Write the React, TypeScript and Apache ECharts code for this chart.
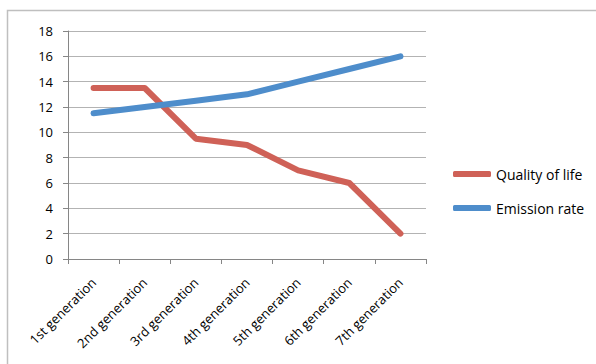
import React, { useEffect, useRef } from "react";
import * as echarts from "echarts";

const categories = [
  "1st generation",
  "2nd generation",
  "3rd generation",
  "4th generation",
  "5th generation",
  "6th generation",
  "7th generation",
];
const qualityOfLife = [13.5, 13.5, 9.5, 9, 7, 6, 2];
const emissionRate = [11.5, 12, 12.5, 13, 14, 15, 16];

const FONT = "Open Sans";

export default function App() {
  const ref = useRef<HTMLDivElement>(null);
  useEffect(() => {
    document.body.style.margin = "0";
    const chart = echarts.init(ref.current!, null, { renderer: "svg" });
    chart.setOption({
      animation: false,
      backgroundColor: "#ffffff",
      textStyle: { fontFamily: FONT },
      graphic: [
        {
          type: "polyline",
          shape: { points: [[7.5, 364], [7.5, 10.5], [596, 10.5]] },
          style: { stroke: "#BFBFBF", lineWidth: 1.5, fill: "none" },
          silent: true,
        },
      ],
      grid: { left: 68, right: 170, top: 31, bottom: 105, containLabel: false },
      legend: {
        orient: "vertical",
        left: 453,
        top: 167,
        padding: 0,
        itemGap: 20,
        itemWidth: 38,
        itemHeight: 6,
        icon: "roundRect",
        textStyle: { fontSize: 14, color: "#000", fontFamily: FONT },
        data: ["Quality of life", "Emission rate"],
      },
      xAxis: {
        type: "category",
        data: categories,
        boundaryGap: true,
        axisLine: { lineStyle: { color: "#868686", width: 1 } },
        axisTick: { show: true, length: 5, lineStyle: { color: "#868686" } },
        axisLabel: {
          rotate: 45,
          interval: 0,
          margin: 21,
          fontSize: 13,
          color: "#000",
          fontFamily: FONT,
        },
      },
      yAxis: {
        type: "value",
        min: 0,
        max: 18,
        interval: 2,
        axisLine: { show: true, lineStyle: { color: "#868686", width: 1 } },
        axisTick: { show: true, length: 5, lineStyle: { color: "#868686" } },
        splitLine: { lineStyle: { color: "#B3B3B3", width: 1 } },
        axisLabel: { fontSize: 13, color: "#000", margin: 15, fontFamily: FONT },
      },
      series: [
        {
          name: "Quality of life",
          type: "line",
          data: qualityOfLife,
          symbol: "none",
          color: "#CF6157",
          lineStyle: { width: 6, color: "#CF6157", cap: "round", join: "round" },
        },
        {
          name: "Emission rate",
          type: "line",
          data: emissionRate,
          symbol: "none",
          color: "#4E8DCB",
          lineStyle: { width: 6, color: "#4E8DCB", cap: "round", join: "round" },
        },
      ],
    });
    return () => chart.dispose();
  }, []);
  return <div ref={ref} style={{ width: 596, height: 364 }} />;
}
